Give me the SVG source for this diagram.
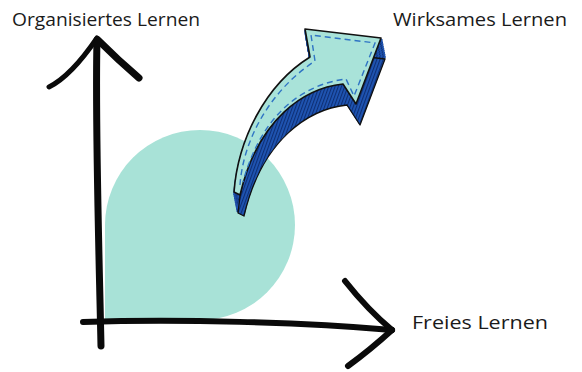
<svg xmlns="http://www.w3.org/2000/svg" xmlns:xlink="http://www.w3.org/1999/xlink" width="582" height="372" viewBox="0 0 582 372">
<style>
.lbl{font-family:"Open Sans","Noto Sans","Liberation Sans",sans-serif;font-size:17.5px;fill:#1a1a1a}
.ax{fill:none;stroke:#0a0a0a;stroke-linecap:round;stroke-linejoin:round}
.ext{fill:url(#hatch);stroke:url(#hatch);stroke-width:2.5;stroke-linejoin:round}
</style>
<defs>
<pattern id="hatch" patternUnits="userSpaceOnUse" width="3" height="3" patternTransform="rotate(20)">
<rect width="3" height="3" fill="#1f55b3"/>
<rect width="1.1" height="3" fill="#0e2f74"/>
</pattern>
<path id="arrow" d="M 234,192 C 238,140 265,85 310,57 L 305,29 L 381,38 L 356,104 L 343,84 C 305,88 258,118 240,195 Z"/>
</defs>
<rect width="582" height="372" fill="#ffffff"/>
<g id="area">
<path d="M 105,320 L 105,225 A 95,95 0 1 1 200,320 Z" fill="#a8e2d7"/>
</g>
<g id="connectors">
<path class="ax" stroke-width="7" d="M 97,40 C 95,120 99,250 101,346"/>
<path class="ax" stroke-width="5" d="M 97,38 C 82,60 67,78 49,87"/>
<path class="ax" stroke-width="7" d="M 98,40 Q 118,60 139,78"/>
<path class="ax" stroke-width="6" d="M 83,322 C 180,319 300,322 392,330"/>
<path class="ax" stroke-width="6" d="M 345,281 Q 368,310 392,330"/>
<path class="ax" stroke-width="6" d="M 392,330 Q 370,350 348,366"/>
</g>
<g id="effective-arrow">
<use xlink:href="#arrow" class="ext" transform="translate(0.4,2.1)"/>
<use xlink:href="#arrow" class="ext" transform="translate(0.8,4.2)"/>
<use xlink:href="#arrow" class="ext" transform="translate(1.2,6.3)"/>
<use xlink:href="#arrow" class="ext" transform="translate(1.6,8.4)"/>
<use xlink:href="#arrow" class="ext" transform="translate(2,10.5)"/>
<use xlink:href="#arrow" class="ext" transform="translate(2.4,12.6)"/>
<use xlink:href="#arrow" class="ext" transform="translate(2.8,14.7)"/>
<use xlink:href="#arrow" class="ext" transform="translate(3.2,16.8)"/>
<use xlink:href="#arrow" class="ext" transform="translate(3.6,18.9)"/>
<use xlink:href="#arrow" fill="url(#hatch)" stroke="#111" stroke-width="1.3" stroke-linejoin="round" transform="translate(4,21)"/>
<use xlink:href="#arrow" fill="#a9e3d9" stroke="#111" stroke-width="1.6" stroke-linejoin="round"/>
<path d="M 240,185 C 243,142 268,92 315,61 L 311,35 L 375,43 L 354,96 L 346,79 C 305,84 262,112 243,182" fill="none" stroke="#2f74c4" stroke-width="1.4" stroke-dasharray="6 4"/>
</g>
<g id="label-y"><text class="lbl" x="12" y="26" textLength="188" lengthAdjust="spacingAndGlyphs">Organisiertes Lernen</text></g>
<g id="label-top"><text class="lbl" x="393" y="26" textLength="174" lengthAdjust="spacingAndGlyphs">Wirksames Lernen</text></g>
<g id="label-x"><text class="lbl" x="412" y="329" textLength="136" lengthAdjust="spacingAndGlyphs">Freies Lernen</text></g>
</svg>
